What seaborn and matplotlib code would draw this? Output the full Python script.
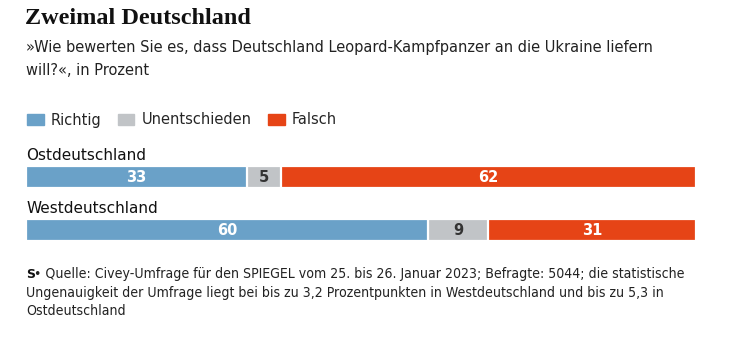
import matplotlib
matplotlib.use("Agg")
import matplotlib.pyplot as plt
import matplotlib.patches as mpatches
import seaborn as sns
import pandas as pd

regions = ["Ostdeutschland", "Westdeutschland"]
answers = ["Richtig", "Unentschieden", "Falsch"]
richtig = [33, 60]
unentschieden = [5, 9]
falsch = [62, 31]
colors = ["#6aa1c8", "#c1c4c7", "#e64416"]
label_colors = ["white", "#333333", "white"]

title = "Zweimal Deutschland"
subtitle = ("»Wie bewerten Sie es, dass Deutschland Leopard-Kampfpanzer an die Ukraine liefern\n"
            "will?«, in Prozent")
source_lines = ["• Quelle: Civey-Umfrage für den SPIEGEL vom 25. bis 26. Januar 2023; Befragte: 5044; die statistische",
                "Ungenauigkeit der Umfrage liegt bei bis zu 3,2 Prozentpunkten in Westdeutschland und bis zu 5,3 in",
                "Ostdeutschland"]

df = pd.DataFrame({"Region": regions, "Richtig": richtig,
                   "Unentschieden": unentschieden, "Falsch": falsch})
df["c1"] = df["Richtig"]
df["c2"] = df["Richtig"] + df["Unentschieden"]
df["c3"] = df["c2"] + df["Falsch"]

sns.set_style("white")
plt.rcParams["font.family"] = ["DejaVu Sans"]

W, H = 734, 358
fig = plt.figure(figsize=(W / 100, H / 100), dpi=100)

# axes covering the bars: x 26..696 px, rows centred at 177 and 230 px
row_gap = 53
top_px = 177 - row_gap / 2
bot_px = 230 + row_gap / 2
ax = fig.add_axes([26 / W, 1 - bot_px / H, 670 / W, (bot_px - top_px) / H])
bar_w = 22 / row_gap

# stacked bars: draw cumulative totals from longest to shortest
for col, c in zip(["c3", "c2", "c1"], colors[::-1]):
    sns.barplot(data=df, y="Region", x=col, color=c, orient="h", width=bar_w,
                edgecolor="white", linewidth=1.6, saturation=1, ax=ax)

ax.set_xlim(0, 100)
ax.set_ylim(1.5, -0.5)
ax.axis("off")

# value labels
for i in range(len(regions)):
    left = 0
    for vals, lc in zip([richtig, unentschieden, falsch], label_colors):
        v = vals[i]
        ax.text(left + v / 2, i, str(v), ha="center", va="center",
                color=lc, fontsize=10.5, fontweight="bold")
        left += v
    ax.annotate(regions[i], xy=(0, i - bar_w / 2), xytext=(0, 2),
                textcoords="offset points", ha="left", va="bottom",
                fontsize=11, color="#111111")

# title and subtitle
fig.text(25 / W, 1 - 8 / H, title, ha="left", va="top", fontsize=17.5,
         fontweight="bold", family="Liberation Serif", color="#111111")
fig.text(26 / W, 1 - 40 / H, subtitle, ha="left", va="top", fontsize=10.5,
         color="#222222", linespacing=1.65)

# legend
handles = [mpatches.Patch(color=c, label=a) for c, a in zip(colors, answers)]
fig.legend(handles=handles, loc="center left", bbox_to_anchor=(21 / W, 1 - 120 / H),
           ncol=3, frameon=False, fontsize=10.5, handlelength=1.15, handleheight=0.8,
           handletextpad=0.5, columnspacing=1.1, borderaxespad=0)

# source note
fig.text(26 / W, 1 - 278 / H, "S", ha="left", va="baseline", fontsize=9,
         fontweight="bold", color="#111111")
for k, line in enumerate(source_lines):
    x0 = 34 if k == 0 else 26
    fig.text(x0 / W, 1 - (278 + 18.5 * k) / H, line, ha="left", va="baseline",
             fontsize=10.1, family="DejaVu Sans", fontstretch="condensed",
             color="#222222")

fig.savefig("out.png", dpi=100)
